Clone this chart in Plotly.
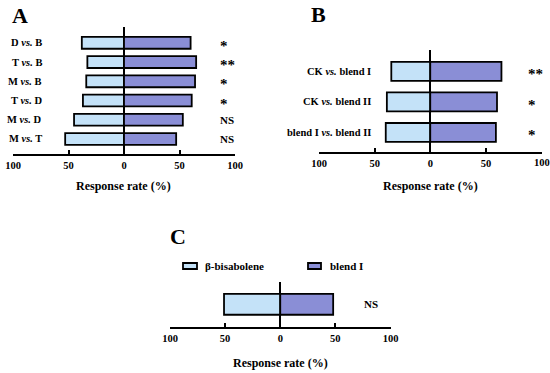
import plotly.graph_objects as go

# ---------------- data ----------------
cats_a = ["D vs. B", "T vs. B", "M vs. B", "T vs. D", "M vs. D", "M vs. T"]
left_a = [38, 33, 34, 37, 45, 53]
right_a = [60, 65, 64, 61, 53, 47]
sig_a = ["*", "**", "*", "*", "NS", "NS"]

cats_b = ["CK vs. blend I", "CK vs. blend II", "blend I vs. blend II"]
left_b = [35, 39, 40]
right_b = [64, 60, 59]
sig_b = ["**", "*", "*"]

cats_c = ["β-bisabolene vs. blend I"]
left_c = [51]
right_c = [48]
sig_c = ["NS"]
legend_names = ["β-bisabolene", "blend I"]

tick_vals = [-100, -50, 0, 50, 100]
tick_text = ["100", "50", "0", "50", "100"]

# ---------------- style ----------------
LIGHT = "#c4e2f8"
PURPLE = "#8a8ed6"
FONT = "Liberation Serif"
W, H = 550, 373
TICKFONT = dict(family=FONT, size=10.5, color="black", weight="bold")


def px(x):
    return x / W


def py(y):
    return 1 - y / H


def lab(c):
    return "<b>" + c.replace(" vs. ", " <i>vs.</i> ") + "</b>"


fig = go.Figure()

panels = [
    dict(cats=cats_a, left=left_a, right=right_a, sig=sig_a, xa="x", ya="y",
         xdom=[px(13), px(235)], ydom=[py(154), py(27)], yrange=[-0.78, 5.82],
         width=0.62, label_x=44, sig_x=218, title_y=186, axis_y=154),
    dict(cats=cats_b, left=left_b, right=right_b, sig=sig_b, xa="x2", ya="y2",
         xdom=[px(319), px(541.5)], ydom=[py(152), py(50)], yrange=[-0.64, 2.70],
         width=0.62, label_x=373, sig_x=526, title_y=186, axis_y=152),
    dict(cats=cats_c, left=left_c, right=right_c, sig=sig_c, xa="x3", ya="y3",
         xdom=[px(170), px(390.5)], ydom=[py(327), py(281.7)], yrange=[-0.65, 0.646],
         width=0.6, label_x=None, sig_x=362, title_y=363, axis_y=327),
]

annotations = []
for i, p in enumerate(panels):
    fig.add_trace(go.Bar(
        y=p["cats"], x=[-v for v in p["left"]], orientation="h",
        marker=dict(color=LIGHT, line=dict(color="black", width=1.8)),
        width=p["width"], xaxis=p["xa"], yaxis=p["ya"],
        name=legend_names[0], showlegend=False, hoverinfo="skip",
    ))
    fig.add_trace(go.Bar(
        y=p["cats"], x=p["right"], orientation="h",
        marker=dict(color=PURPLE, line=dict(color="black", width=1.8)),
        width=p["width"], xaxis=p["xa"], yaxis=p["ya"],
        name=legend_names[1], showlegend=False, hoverinfo="skip",
    ))
    # last tick label of panel B sits at the page edge; plotly hides it,
    # so it is drawn as an annotation instead
    edge = (i == 1)
    ttext = tick_text[:-1] + [""] if edge else tick_text
    sfx = "" if i == 0 else str(i + 1)
    fig.update_layout(**{
        "xaxis" + sfx: dict(
            domain=p["xdom"], range=[-100, 100], anchor=p["ya"],
            tickvals=tick_vals, ticktext=ttext, automargin=False,
            ticklabeloverflow="allow",
            showline=True, linecolor="black", linewidth=2,
            ticks="inside", ticklen=4, tickwidth=2, tickcolor="black",
            zeroline=True, zerolinecolor="black", zerolinewidth=2,
            showgrid=False, fixedrange=True,
            tickfont=TICKFONT,
        ),
        "yaxis" + sfx: dict(
            domain=p["ydom"], range=p["yrange"], anchor=p["xa"],
            type="category", categoryorder="array", automargin=False,
            categoryarray=list(reversed(p["cats"])),
            showticklabels=False, showline=False, showgrid=False,
            zeroline=False, ticks="", fixedrange=True,
        ),
    })
    if edge:
        annotations.append(dict(
            x=tick_vals[-1], y=py(p["axis_y"] + 3), xref=p["xa"], yref="paper",
            xanchor="center", yanchor="top", showarrow=False,
            text=tick_text[-1], font=TICKFONT,
        ))
    yref = "y" if i == 0 else "y" + str(i + 1)
    for c, s in zip(p["cats"], p["sig"]):
        if p["label_x"] is not None:
            annotations.append(dict(
                x=px(p["label_x"]), y=c, xref="paper", yref=yref,
                xanchor="right", yanchor="middle", showarrow=False,
                text=lab(c), font=dict(family=FONT, size=10.5, color="black"),
            ))
        star = s.startswith("*")
        annotations.append(dict(
            x=px(p["sig_x"]), y=c, xref="paper", yref=yref,
            xanchor="left", yanchor="middle", showarrow=False,
            yshift=-3 if star else 0,
            text="<b>" + s + "</b>",
            font=dict(family=FONT, size=15 if star else 11, color="black"),
        ))
    cx = (p["xdom"][0] + p["xdom"][1]) / 2
    annotations.append(dict(
        x=cx, y=py(p["title_y"]), xref="paper", yref="paper",
        xanchor="center", yanchor="middle", showarrow=False,
        text="<b>Response rate (%)</b>",
        font=dict(family=FONT, size=12, color="black"),
    ))

# panel letters
for letter, (x, y) in zip(["A", "B", "C"], [(20, 15), (318, 14), (178, 236)]):
    annotations.append(dict(
        x=px(x), y=py(y), xref="paper", yref="paper",
        xanchor="center", yanchor="middle", showarrow=False,
        text="<b>" + letter + "</b>",
        font=dict(family=FONT, size=22, color="black"),
    ))

# legend (panel C)
shapes = []
for name, color, (sx0, sx1, tx) in zip(legend_names, [LIGHT, PURPLE],
                                        [(183, 197, 203), (308, 321, 328)]):
    shapes.append(dict(
        type="rect", xref="paper", yref="paper",
        x0=px(sx0), x1=px(sx1), y0=py(269), y1=py(263),
        fillcolor=color, line=dict(color="black", width=1.8),
    ))
    annotations.append(dict(
        x=px(tx), y=py(266), xref="paper", yref="paper",
        xanchor="left", yanchor="middle", showarrow=False,
        text="<b>" + name + "</b>",
        font=dict(family=FONT, size=11, color="black"),
    ))

fig.update_layout(
    width=W, height=H,
    margin=dict(l=0, r=0, t=0, b=0, autoexpand=False),
    paper_bgcolor="white", plot_bgcolor="white",
    barmode="relative", bargap=0,
    showlegend=False, hovermode=False,
    annotations=annotations, shapes=shapes,
    font=dict(family=FONT, color="black"),
)

fig.write_html(
    "out.html",
    config={"displayModeBar": False, "staticPlot": True},
    post_script="document.body.style.margin='0';document.body.style.overflow='hidden';",
)
